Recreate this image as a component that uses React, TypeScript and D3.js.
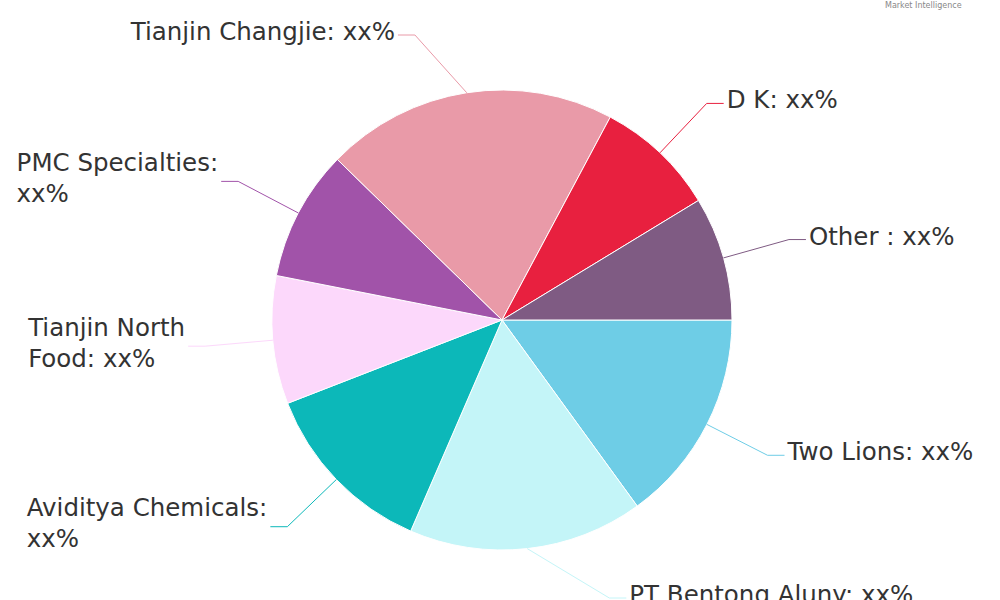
import React, { useEffect, useRef } from "react";
import * as d3 from "d3";

const categories = [
  "Two Lions",
  "PT Bentong Aluny",
  "Aviditya Chemicals",
  "Tianjin North Food",
  "PMC Specialties",
  "Tianjin Changjie",
  "D K",
  "Other ",
];
const shares = [15.0, 16.5, 12.6, 9.0, 9.2, 20.5, 8.5, 8.7];
const colors = [
  "#6ecde6",
  "#c4f5f8",
  "#0cb8b9",
  "#fcd8fb",
  "#a153a9",
  "#e99aa8",
  "#e8203f",
  "#7f5b83",
];
const valueLabel = "xx%";

const W = 1000;
const H = 600;
const FONT = "DejaVu Sans, Verdana, sans-serif";
const FS = 24.5;
const LINE_H = 31;

export default function App() {
  const ref = useRef<SVGSVGElement>(null);

  useEffect(() => {
    const svg = d3.select(ref.current);
    svg.selectAll("*").remove();

    const cx = 502;
    const cy = 320;
    const r = 230;
    const labelR = 298;

    const data = categories.map((c, i) => ({ name: c, value: shares[i], color: colors[i] }));
    const pie = d3
      .pie<any>()
      .sort(null)
      .value((d) => d.value)
      .startAngle(Math.PI / 2)
      .endAngle(Math.PI / 2 + 2 * Math.PI);
    const arcs = pie(data);
    const arc = d3.arc<any>().innerRadius(0).outerRadius(r);

    const g = svg.append("g").attr("transform", `translate(${cx},${cy})`);
    g.selectAll("path.slice")
      .data(arcs)
      .enter()
      .append("path")
      .attr("class", "slice")
      .attr("d", arc as any)
      .attr("fill", (d) => d.data.color)
      .attr("stroke", "#ffffff")
      .attr("stroke-width", 1)
      .attr("stroke-linejoin", "round");

    const canvas = document.createElement("canvas");
    const ctx = canvas.getContext("2d")!;
    ctx.font = `${FS}px ${FONT}`;
    const measure = (s: string) => ctx.measureText(s).width;

    const wrap = (text: string, maxW: number) => {
      const words = text.split(" ");
      const lines: string[] = [];
      let cur = "";
      words.forEach((w) => {
        const test = cur ? cur + " " + w : w;
        if (cur && measure(test) > maxW) {
          lines.push(cur);
          cur = w;
        } else cur = test;
      });
      if (cur) lines.push(cur);
      return lines;
    };

    const labels = svg.append("g");
    arcs.forEach((a) => {
      const mid = (a.startAngle + a.endAngle) / 2;
      const sx = Math.sin(mid);
      const sy = -Math.cos(mid);
      const ex = cx + r * sx;
      const ey = cy + r * sy;
      let ay = cy + labelR * sy;
      ay = Math.max(35, Math.min(598, ay));
      const dy = ay - cy;
      const right = sx >= 0;
      const dxAbs = Math.sqrt(Math.max(0, labelR * labelR - dy * dy));
      const ax = right ? cx + dxAbs : cx - dxAbs;
      const lineEnd = right ? ax + 17 : ax - 17;
      const textX = right ? ax + 20 : ax - 20;

      labels
        .append("path")
        .attr("d", `M${ex},${ey}L${ax},${ay}L${lineEnd},${ay}`)
        .attr("fill", "none")
        .attr("stroke", a.data.color)
        .attr("stroke-width", 1);

      const full = `${a.data.name}: ${valueLabel}`;
      const avail = right ? W - textX - 10 : textX - 5;
      const lines = wrap(full, avail);
      const blockW = d3.max(lines, (l) => measure(l)) as number;
      const left = right ? textX : textX - blockW;
      const n = lines.length;
      const t = labels
        .append("text")
        .attr("font-family", FONT)
        .attr("font-size", FS)
        .attr("fill", "#333333");
      lines.forEach((l, i) => {
        t.append("tspan")
          .attr("x", left)
          .attr("y", ay + 5 + (i - (n - 1) / 2) * LINE_H)
          .text(l);
      });
    });

    svg
      .append("text")
      .attr("x", 885)
      .attr("y", 8)
      .attr("font-family", FONT)
      .attr("font-size", 8)
      .attr("fill", "#888888")
      .text("Market Intelligence");
  }, []);

  return (
    <svg
      ref={ref}
      width={W}
      height={H}
      style={{ position: "absolute", left: 0, top: 0, background: "#ffffff" }}
    />
  );
}
